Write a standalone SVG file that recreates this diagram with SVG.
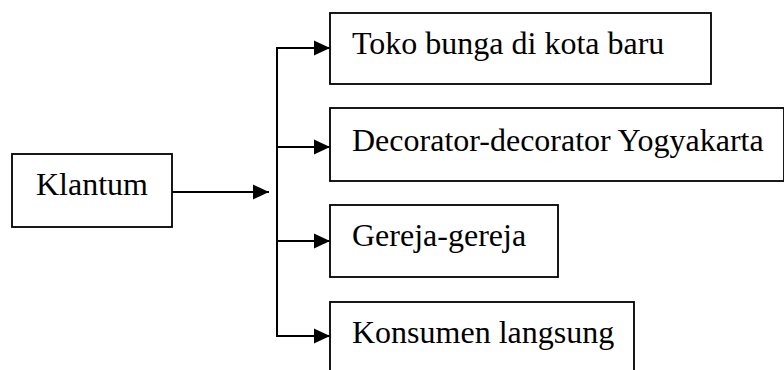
<svg xmlns="http://www.w3.org/2000/svg" width="784" height="370" viewBox="0 0 784 370">
<style>
.box{fill:#fff;stroke:#000;stroke-width:1.8}
.lbl{font-family:"Liberation Serif","Times New Roman",serif;font-size:32px;fill:#000}
.con{fill:none;stroke:#000;stroke-width:2}
</style>
<defs>
<marker id="ah" markerWidth="16" markerHeight="16" refX="16" refY="8" orient="auto" markerUnits="userSpaceOnUse">
<path d="M0,0.5 L16,8 L0,15.5 Z" fill="#000"/>
</marker>
</defs>
<rect width="784" height="370" fill="#fff"/>
<g id="klantum">
<rect class="box" x="12" y="154" width="160" height="73"/>
<text class="lbl" x="36" y="195">Klantum</text>
</g>
<g id="toko">
<rect class="box" x="330" y="13" width="381" height="71"/>
<text class="lbl" x="352" y="54">Toko bunga di kota baru</text>
</g>
<g id="decorator">
<rect class="box" x="330" y="108" width="454" height="73"/>
<text class="lbl" x="352" y="151">Decorator-decorator Yogyakarta</text>
</g>
<g id="gereja">
<rect class="box" x="330" y="205" width="228" height="72"/>
<text class="lbl" x="352" y="246">Gereja-gereja</text>
</g>
<g id="konsumen">
<rect class="box" x="330" y="302" width="304" height="80"/>
<text class="lbl" x="352" y="343">Konsumen langsung</text>
</g>
<g id="connectors">
<line class="con" x1="172" y1="192" x2="269" y2="192" marker-end="url(#ah)"/>
<line class="con" x1="277" y1="47" x2="277" y2="337"/>
<line class="con" x1="276" y1="48" x2="330" y2="48" marker-end="url(#ah)"/>
<line class="con" x1="277" y1="147" x2="330" y2="147" marker-end="url(#ah)"/>
<line class="con" x1="277" y1="241" x2="330" y2="241" marker-end="url(#ah)"/>
<line class="con" x1="276" y1="336" x2="330" y2="336" marker-end="url(#ah)"/>
</g>
</svg>
